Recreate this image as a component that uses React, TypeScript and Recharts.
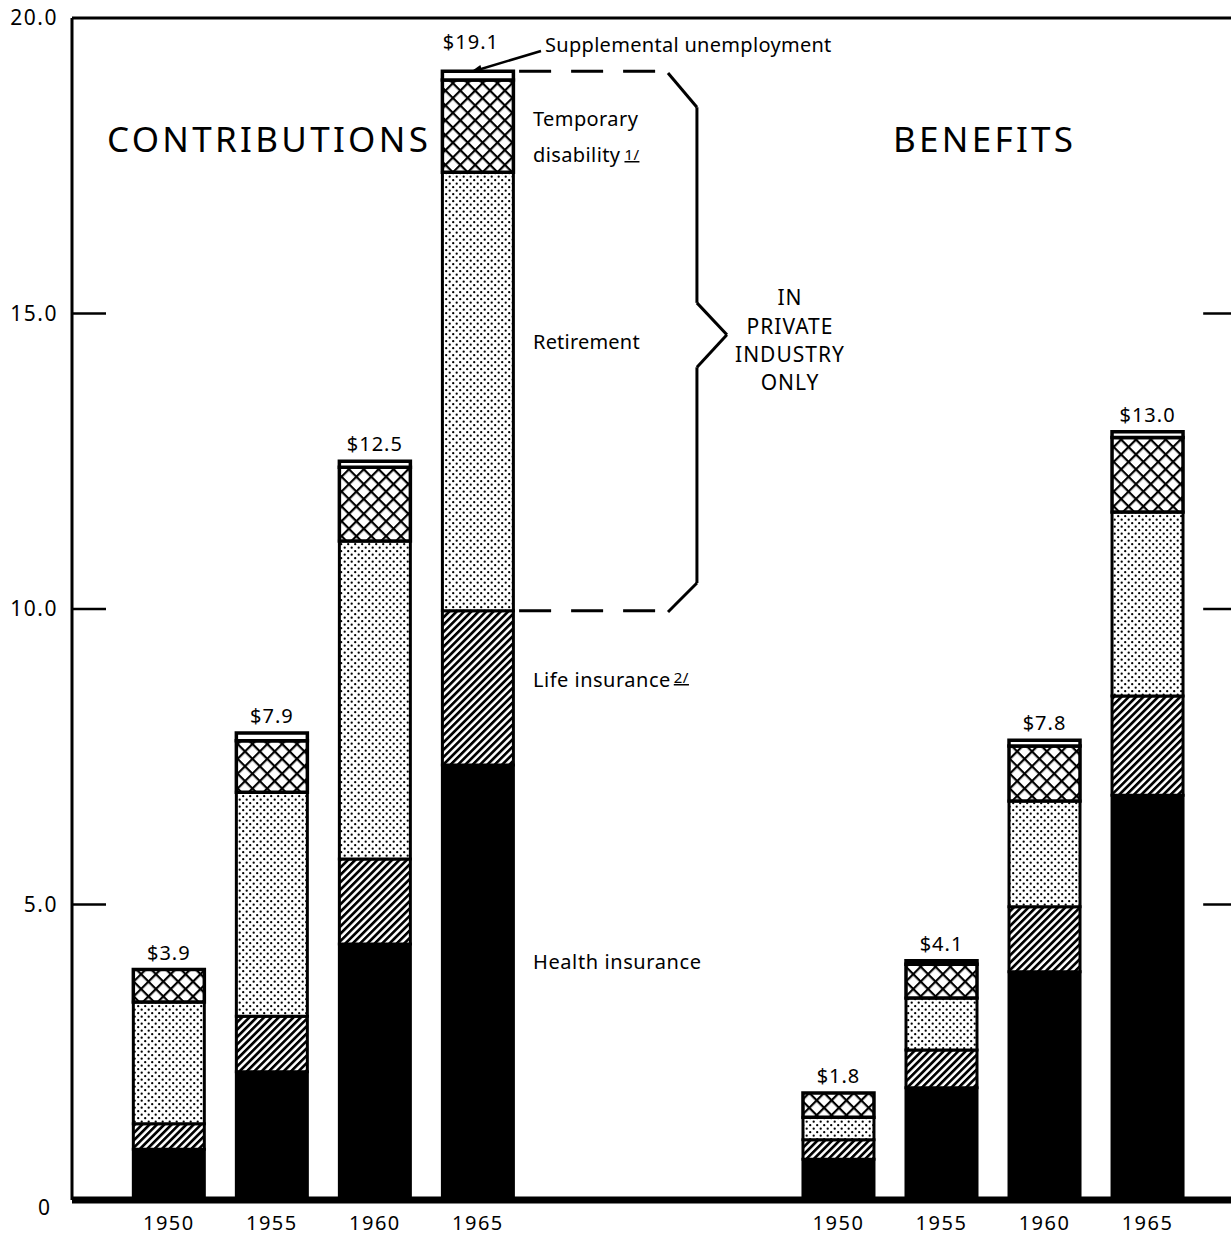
import React from 'react';
import { BarChart, Bar, XAxis, YAxis, ReferenceLine, LabelList } from 'recharts';

const positions = [1, 2, 3, 4, 7.5, 8.5, 9.5, 10.5];
const years = ['1950', '1955', '1960', '1965', '1950', '1955', '1960', '1965'];
const health = [0.86, 2.17, 4.33, 7.36, 0.69, 1.9, 3.86, 6.85];
const life = [0.43, 0.94, 1.44, 2.61, 0.33, 0.64, 1.1, 1.68];
const retirement = [2.06, 3.79, 5.38, 7.42, 0.38, 0.88, 1.79, 3.11];
const disability = [0.55, 0.87, 1.25, 1.56, 0.41, 0.57, 0.93, 1.26];
const supplemental = [0, 0.13, 0.1, 0.15, 0, 0.06, 0.1, 0.1];
const totals = ['$3.9', '$7.9', '$12.5', '$19.1', '$1.8', '$4.1', '$7.8', '$13.0'];
const yTicks = [0, 5, 10, 15, 20];
const yTickLabels = ['0', '5.0', '10.0', '15.0', '20.0'];

const data = positions.map((p, i) => ({
  pos: p,
  year: years[i],
  health: health[i],
  life: life[i],
  retirement: retirement[i],
  disability: disability[i],
  supplemental: supplemental[i],
}));

const FONT = '"Noto Sans", sans-serif';
const X0 = 0.06;
const X1 = 11.31;

const top1965 = health[3] + life[3] + retirement[3] + disability[3] + supplemental[3];
const lifeTop1965 = health[3] + life[3];

const YTick = (props: any) => {
  const { x, y, payload } = props;
  const idx = yTicks.indexOf(payload.value);
  const label = yTickLabels[idx];
  if (payload.value === 0) {
    return (
      <text x={44} y={y + 15} textAnchor="middle" fontSize={21} fontFamily={FONT} fill="#000">
        {label}
      </text>
    );
  }
  return (
    <text x={x - 6} y={y + 7} textAnchor="end" fontSize={21} fontFamily={FONT} fill="#000" letterSpacing={1.5}>
      {label}
    </text>
  );
};

const XTick = (props: any) => {
  const { x, y, payload } = props;
  const idx = positions.indexOf(payload.value);
  return (
    <text x={x} y={y + 28} textAnchor="middle" fontSize={20} fontFamily={FONT} fill="#000" letterSpacing={1.5}>
      {years[idx]}
    </text>
  );
};

// label anchored on the (always non-zero) disability segment, lifted by the
// supplemental segment height using the same px-per-unit as the drawn bar
const TotalLabel = (props: any) => {
  const { x, y, width, height, index } = props;
  const pxPerUnit = Math.abs(height) / disability[index];
  const topY = Math.min(y, y + height) - supplemental[index] * pxPerUnit;
  const lift = index === 3 ? 12 : 0; // the 1965 label sits higher to clear the arrow
  const shift = index === 3 ? -7 : 0;
  return (
    <text x={x + width / 2 + shift} y={topY - 10 - lift} textAnchor="middle" fontSize={20} fontFamily={FONT} fill="#000" letterSpacing={1}>
      {totals[index]}
    </text>
  );
};

const seg = (x1: number, y1: number, x2: number, y2: number, key: string, dashed = false, w = 3) => (
  <ReferenceLine
    key={key}
    segment={[{ x: x1, y: y1 }, { x: x2, y: y2 }]}
    stroke="#000"
    strokeWidth={w}
    strokeDasharray={dashed ? '32 20' : undefined}
    ifOverflow="visible"
  />
);

export default function App() {
  const txt = { fontFamily: FONT, fill: '#000' } as any;
  return (
    <div style={{ position: 'absolute', left: 0, top: 0, background: '#fff' }}>
      <BarChart
        width={1231}
        height={1236}
        data={data}
        margin={{ top: 18, right: 0, bottom: 0, left: 0 }}
        barGap={0}
      >
        <defs>
          <pattern id="stripes" width="5.2" height="5.2" patternUnits="userSpaceOnUse" patternTransform="rotate(45)">
            <rect width="5.2" height="5.2" fill="#fff" />
            <rect width="2.7" height="5.2" fill="#000" />
          </pattern>
          <pattern id="dots" width="7" height="7" patternUnits="userSpaceOnUse">
            <rect width="7" height="7" fill="#fff" />
            <circle cx="1.7" cy="1.7" r="1.15" fill="#000" />
            <circle cx="5.2" cy="5.2" r="1.15" fill="#000" />
          </pattern>
          <pattern id="cross" width="10.5" height="10.5" patternUnits="userSpaceOnUse" patternTransform="rotate(45)">
            <rect width="10.5" height="10.5" fill="#fff" />
            <rect width="10.5" height="2.2" fill="#000" />
            <rect width="2.2" height="10.5" fill="#000" />
          </pattern>
          <marker id="arrow" markerWidth="12" markerHeight="10" refX="11" refY="5" orient="auto" markerUnits="userSpaceOnUse">
            <path d="M0,1 L12,5 L0,9 Z" fill="#000" />
          </marker>
        </defs>
        <XAxis
          dataKey="pos"
          type="number"
          domain={[X0, X1]}
          ticks={positions}
          tick={<XTick />}
          tickLine={false}
          tickSize={0}
          height={36}
          axisLine={{ stroke: '#000', strokeWidth: 7 }}
          allowDataOverflow
        />
        <YAxis
          type="number"
          domain={[0, 20]}
          ticks={yTicks}
          tick={<YTick />}
          tickLine={false}
          width={72}
          axisLine={{ stroke: '#000', strokeWidth: 3 }}
          allowDataOverflow
        />
        <ReferenceLine y={20} stroke="#000" strokeWidth={3} />
        {[5, 10, 15].map((v) => seg(X0, v, X0 + 0.33, v, 'lt' + v, false, 2.5))}
        {[5, 10, 15].map((v) => seg(11.04, v, X1, v, 'rt' + v, false, 2.5))}
        {seg(4.4, top1965, 5.79, top1965, 'd1', true)}
        {seg(4.4, lifeTop1965, 5.79, lifeTop1965, 'd2', true)}
        {seg(5.845, 19.07, 6.126, 18.49, 'b1')}
        {seg(6.126, 18.49, 6.126, 15.18, 'b2')}
        {seg(6.126, 15.18, 6.417, 14.64, 'b3')}
        {seg(6.417, 14.64, 6.126, 14.09, 'b4')}
        {seg(6.126, 14.09, 6.126, 10.44, 'b5')}
        {seg(6.126, 10.44, 5.845, 9.95, 'b6')}
        <Bar dataKey="health" stackId="a" fill="#000" stroke="#000" strokeWidth={3} barSize={71} isAnimationActive={false} />
        <Bar dataKey="life" stackId="a" fill="url(#stripes)" stroke="#000" strokeWidth={3} barSize={71} isAnimationActive={false} />
        <Bar dataKey="retirement" stackId="a" fill="url(#dots)" stroke="#000" strokeWidth={3} barSize={71} isAnimationActive={false} />
        <Bar dataKey="disability" stackId="a" fill="url(#cross)" stroke="#000" strokeWidth={3.5} barSize={71} isAnimationActive={false}>
          <LabelList dataKey="disability" content={<TotalLabel />} />
        </Bar>
        <Bar dataKey="supplemental" stackId="a" fill="#fff" stroke="#000" strokeWidth={3.5} barSize={71} isAnimationActive={false} />
        <text x={107} y={152} fontSize={35} letterSpacing={3.3} {...txt}>CONTRIBUTIONS</text>
        <text x={893} y={152} fontSize={35} letterSpacing={3.3} {...txt}>BENEFITS</text>
        <text x={545} y={52} fontSize={20} letterSpacing={0.3} {...txt}>Supplemental unemployment</text>
        <line x1={541} y1={51} x2={471} y2={72} stroke="#000" strokeWidth={2.5} markerEnd="url(#arrow)" />
        <text x={533} y={126} fontSize={20} letterSpacing={0.4} {...txt}>Temporary</text>
        <text x={533} y={162} fontSize={20} letterSpacing={0.4} {...txt}>
          disability
          <tspan fontSize={15} dx={4} dy={-2} textDecoration="underline">1/</tspan>
        </text>
        <text x={533} y={349} fontSize={20} letterSpacing={0.2} {...txt}>Retirement</text>
        <text x={790} y={305} fontSize={21} letterSpacing={1} textAnchor="middle" {...txt}>IN</text>
        <text x={790} y={334} fontSize={21} letterSpacing={1} textAnchor="middle" {...txt}>PRIVATE</text>
        <text x={790} y={362} fontSize={21} letterSpacing={1} textAnchor="middle" {...txt}>INDUSTRY</text>
        <text x={790} y={390} fontSize={21} letterSpacing={1} textAnchor="middle" {...txt}>ONLY</text>
        <text x={533} y={687} fontSize={20} letterSpacing={0.5} {...txt}>
          Life insurance
          <tspan fontSize={15} dx={3} dy={-4} textDecoration="underline">2/</tspan>
        </text>
        <text x={533} y={969} fontSize={20} letterSpacing={0.6} {...txt}>Health insurance</text>
      </BarChart>
    </div>
  );
}
